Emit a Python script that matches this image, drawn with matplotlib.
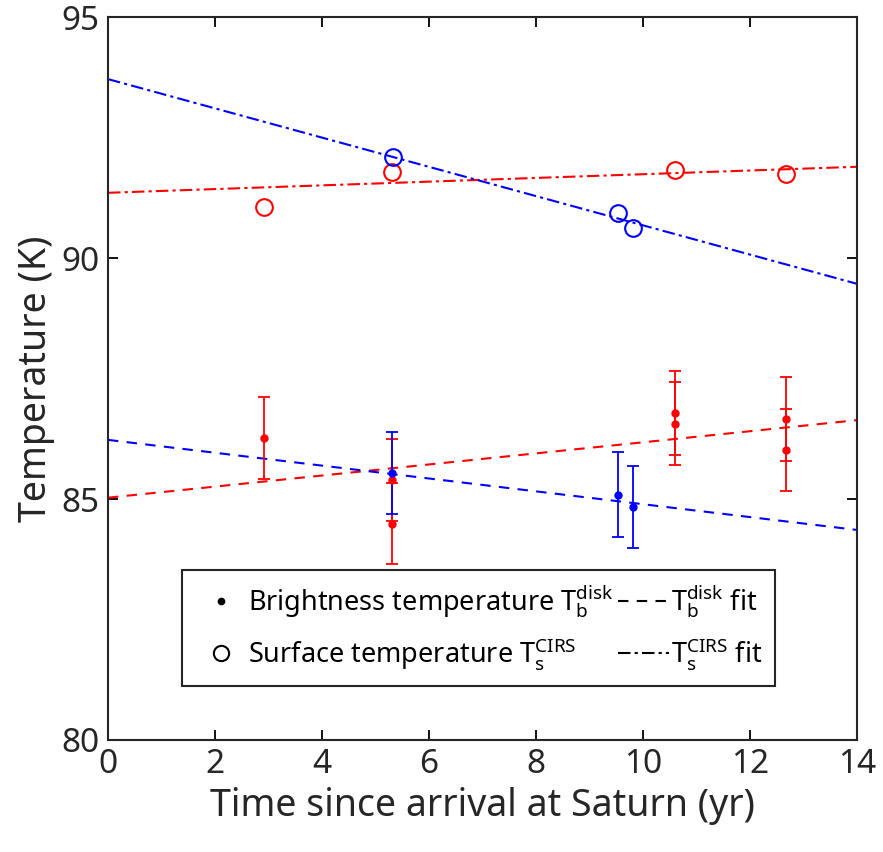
import matplotlib
matplotlib.use("Agg")
from matplotlib import pyplot as plt
from matplotlib.lines import Line2D

# ===== data =====
# brightness temperature T_b^disk (points with error bars)
bt_red_t = [2.92, 5.31, 5.31, 10.59, 10.59, 12.68, 12.68]
bt_red_T = [86.27, 85.40, 84.49, 86.78, 86.57, 86.66, 86.02]
bt_red_err = [0.86, 0.85, 0.84, 0.87, 0.86, 0.87, 0.85]
bt_blue_t = [5.31, 9.53, 9.81]
bt_blue_T = [85.54, 85.09, 84.83]
bt_blue_err = [0.85, 0.88, 0.85]

# surface temperature T_s^CIRS (open circles)
st_red_t = [2.92, 5.31, 10.59, 12.68]
st_red_T = [91.07, 91.80, 91.83, 91.75]
st_blue_t = [5.33, 9.53, 9.81]
st_blue_T = [92.11, 90.94, 90.63]

# linear fits, given by their end points
fit_t = [0, 14]
fit_bt_red = [85.03, 86.64]
fit_bt_blue = [86.23, 84.36]
fit_st_red = [91.36, 91.90]
fit_st_blue = [93.72, 89.47]

x_ticks = [0, 2, 4, 6, 8, 10, 12, 14]
y_ticks = [80, 85, 90, 95]

RED = (1, 0, 0)
BLUE = (0, 0, 1)
INK = '#262626'

plt.rcParams['font.family'] = ['Noto Sans', 'DejaVu Sans']
plt.rcParams['mathtext.fontset'] = 'custom'
plt.rcParams['mathtext.rm'] = 'Noto Sans'
plt.rcParams['mathtext.it'] = 'Noto Sans'


def main():
    fig = plt.figure(figsize=(8.83, 8.52), dpi=100)
    ax = fig.add_axes([0.1223, 0.1315, 0.8483, 0.848])

    # fits
    ax.plot(fit_t, fit_bt_red, '--', color=RED, lw=1.5, dashes=(5, 4))
    ax.plot(fit_t, fit_bt_blue, '--', color=BLUE, lw=1.5, dashes=(5, 4))
    ax.plot(fit_t, fit_st_red, '-.', color=RED, lw=1.5, dashes=(6, 2, 1.5, 2))
    ax.plot(fit_t, fit_st_blue, '-.', color=BLUE, lw=1.5, dashes=(6, 2, 1.5, 2))

    # brightness temperatures
    ax.errorbar(bt_red_t, bt_red_T, yerr=bt_red_err, fmt='o', ms=5,
                color=RED, ecolor=RED, elinewidth=1.3, capsize=4.5, capthick=1.3)
    ax.errorbar(bt_blue_t, bt_blue_T, yerr=bt_blue_err, fmt='o', ms=5,
                color=BLUE, ecolor=BLUE, elinewidth=1.3, capsize=4.5, capthick=1.3)

    # surface temperatures
    ax.plot(st_red_t, st_red_T, 'o', ms=12, mfc='none', mec=RED, mew=1.5)
    ax.plot(st_blue_t, st_blue_T, 'o', ms=12, mfc='none', mec=BLUE, mew=1.5)

    ax.set_xlim(0, 14)
    ax.set_ylim(80, 95)
    ax.set_xticks(x_ticks)
    ax.set_yticks(y_ticks)
    ax.tick_params(direction='in', length=7, width=1.3, labelsize=24,
                   top=True, right=True, colors='black', labelcolor=INK, pad=6)
    for sp in ax.spines.values():
        sp.set_linewidth(1.5)
        sp.set_color(INK)

    ax.set_xlabel('Time since arrival at Saturn (yr)', fontsize=27, color=INK, labelpad=4)
    ax.set_ylabel('Temperature (K)', fontsize=27, color=INK, labelpad=5)

    # legend
    handles = [
        Line2D([], [], ls='none', marker='o', ms=4.5, color='black'),
        Line2D([], [], ls='none', marker='o', ms=11, mfc='none', mec='black', mew=1.5),
        Line2D([], [], ls='--', color='black', lw=1.5, dashes=(5, 4)),
        Line2D([], [], ls='-.', color='black', lw=1.5, dashes=(6, 2, 1.5, 2)),
    ]
    labels = [
        r'Brightness temperature $\mathregular{T_b^{disk}}$',
        r'Surface temperature $\mathregular{T_s^{CIRS}}$',
        r'$\mathregular{T_b^{disk}}$ fit',
        r'$\mathregular{T_s^{CIRS}}$ fit',
    ]
    leg = ax.legend(handles, labels, ncol=2, loc='lower left',
                    bbox_to_anchor=(0.0988, 0.0747), borderaxespad=0,
                    fontsize=19.5, frameon=True, fancybox=False, framealpha=1,
                    handlelength=1.9, handletextpad=0.05, columnspacing=0.15,
                    borderpad=0.5, labelspacing=0.6)
    leg.get_frame().set_edgecolor(INK)
    leg.get_frame().set_linewidth(1.5)

    fig.savefig('out.png', dpi=100)


if __name__ == "__main__":
    main()
